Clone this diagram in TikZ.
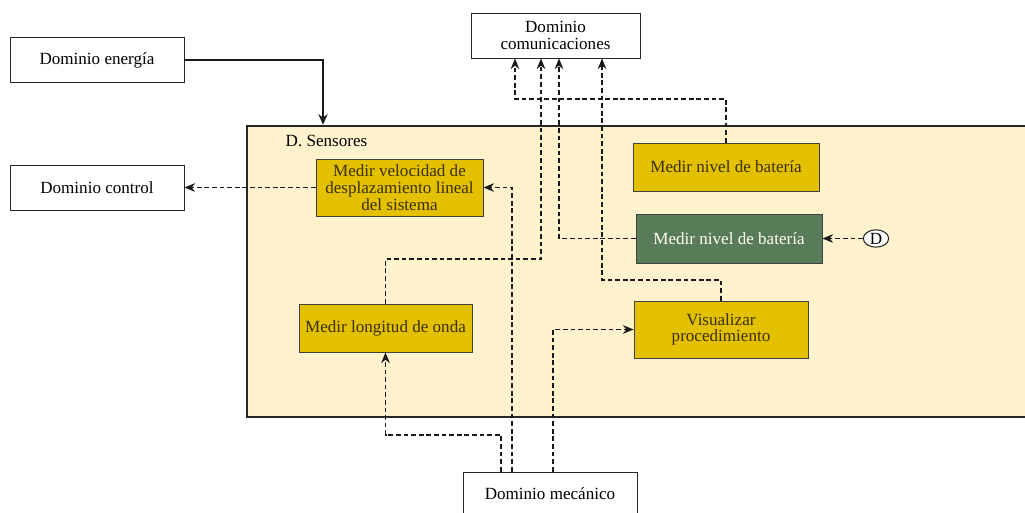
\documentclass[tikz,border=0pt]{standalone}
\usepackage{fontspec}
\setmainfont{Liberation Serif}
\usetikzlibrary{arrows.meta,shapes.geometric}
\definecolor{sensfill}{HTML}{FFF2CC}
\definecolor{yellowbox}{HTML}{E3C000}
\definecolor{greenbox}{HTML}{587B58}
\definecolor{boxtext}{HTML}{3D3000}

\begin{document}
\begin{tikzpicture}[x=0.75pt, y=-0.75pt,
  dom/.style={rectangle, draw=black!85, line width=0.7pt, fill=white, minimum width=130.5pt, minimum height=33.5pt, inner sep=1pt, font=\fontsize{12.8}{12.5}\selectfont, align=center},
  func/.style={rectangle, draw=black!75, line width=0.7pt, fill=yellowbox, text=boxtext, inner sep=1pt, font=\fontsize{12.8}{12.5}\selectfont, align=center},
  arr/.style={-{Stealth[length=8pt,width=7pt]}, line width=1pt, black!90},
  darr/.style={-{Stealth[length=8pt,width=6.5pt]}, line width=0.9pt, dash pattern=on 3.5pt off 2.2pt, black!90}
]
\useasboundingbox (0,0) rectangle (1025,513);
% sensor domain container
\node[rectangle, draw=black!85, line width=1.9pt, fill=sensfill, minimum width=592.5pt, minimum height=218.25pt] (sens) at (642,271.5) {};
\node[anchor=west, font=\fontsize{12.8}{12.5}\selectfont] (senslbl) at (281,141) {D. Sensores};

% outer domains
\node[dom] (ener) at (97,60)    {Dominio energía};
\node[dom, minimum height=33.75pt] (ctrl) at (97,187.5) {Dominio control};
\node[dom, minimum width=126.75pt, minimum height=33.75pt] (com) at (555.5,35.5) {Dominio\\comunicaciones};
\node[dom, minimum height=32.25pt] (mec) at (550,493.5) {Dominio mecánico};

% functions
\node[func, minimum width=125.25pt, minimum height=42.75pt] (vel)  at (399.5,187.5) {Medir velocidad de\\desplazamiento lineal\\del sistema};
\node[func, minimum width=139.5pt, minimum height=36pt]     (bat1) at (726,167)     {Medir nivel de batería};
\node[func, minimum width=139.5pt, minimum height=36.75pt, fill=greenbox, text=white!95!yellow] (bat2) at (729,238.5) {Medir nivel de batería};
\node[func, minimum width=130.5pt, minimum height=42.75pt]  (vis)  at (721,329.5)   {Visualizar\\procedimiento};
\node[func, minimum width=129.75pt, minimum height=36pt]    (lon)  at (385.5,328)   {Medir longitud de onda};
\node[ellipse, draw=black!85, line width=0.8pt, fill=white, minimum width=19pt, minimum height=13pt, inner sep=0pt, font=\fontsize{12.8}{12.5}\selectfont] (dd) at (876,238.5) {D};

% bend points
\coordinate (ein) at (323,0);
\coordinate (c1) at (501,435);
\coordinate (c2) at (512,0);
\coordinate (c3) at (553,0);
\coordinate (c4) at (541,259);
\coordinate (c5) at (559,0);
\coordinate (c6) at (602,280);
\coordinate (c7) at (515,99);

% connectors
\draw[arr] (ener.east) -| (ein |- sens.north);
\draw[darr] (vel.west) -- (ctrl.east);
\draw[darr] (mec.north -| c1) -- (c1) -| (lon.south);
\draw[darr] (mec.north -| c2) |- (vel.east);
\draw[darr] (mec.north -| c3) |- (vis.west);
\draw[darr] (lon.north) |- (c4) -- (c4 |- com.south);
\draw[darr] (bat2.west) -| (c5 |- com.south);
\draw[darr] (vis.north) |- (c6) -- (c6 |- com.south);
\draw[darr] (bat1.north) |- (c7) -- (c7 |- com.south);
\draw[darr] (dd.west) -- (bat2.east);
\end{tikzpicture}
\end{document}
